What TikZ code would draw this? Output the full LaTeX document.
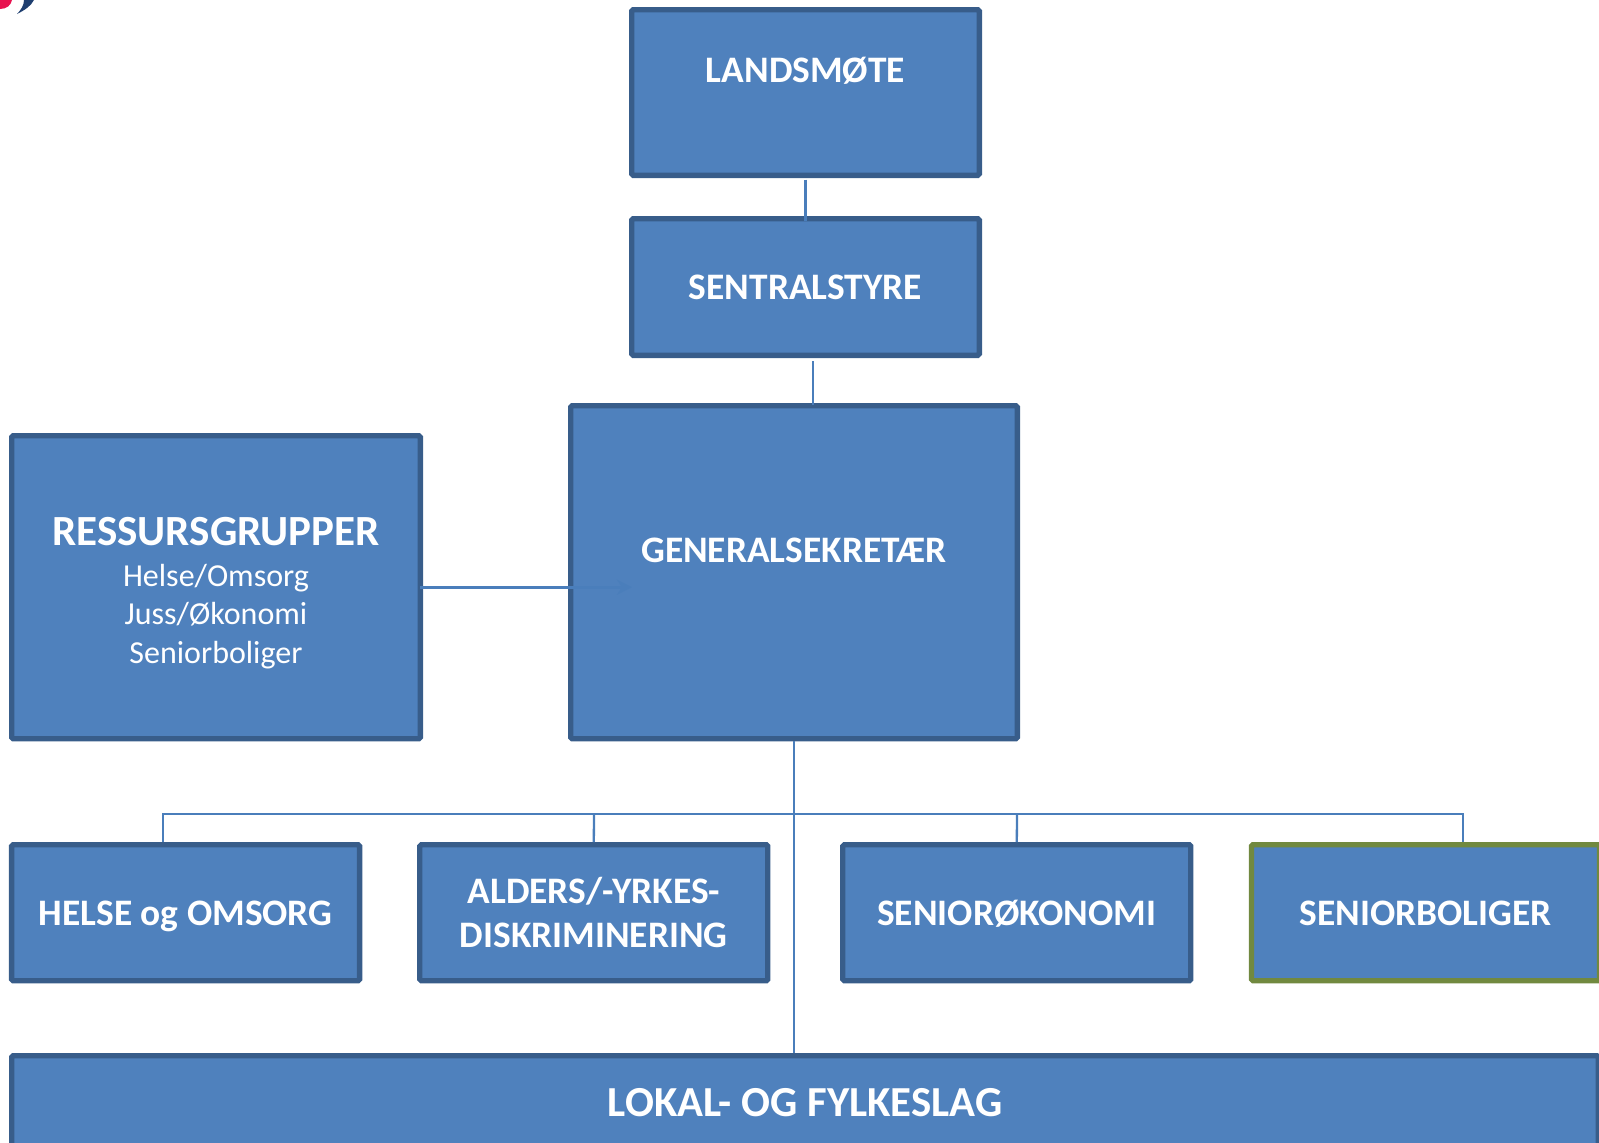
\documentclass[tikz,border=0pt]{standalone}
\usepackage{fontspec}
\setmainfont{Carlito}
\usepackage{xcolor}
\usetikzlibrary{arrows.meta}
\definecolor{boxfill}{HTML}{4F81BD}
\definecolor{boxline}{HTML}{385D8A}
\definecolor{greenline}{HTML}{71893F}
\definecolor{linkline}{HTML}{4A7EBB}
\definecolor{logored}{HTML}{E8124F}
\definecolor{logonavy}{HTML}{1F3F70}
\tikzset{
  orgbox/.style={rectangle, draw=boxline, fill=boxfill, line width=5.3pt, rounded corners=1.5pt,
    inner sep=0pt, align=center, text=white, font=\fontsize{37.4}{44}\selectfont\bfseries},
  oneline/.style={text height=#1, text depth=0pt},
  link/.style={draw=linkline, line width=2.3pt}
}
\newcommand{\subline}[1]{{\fontsize{32}{38.5}\selectfont\mdseries #1}}
\begin{document}
\begin{tikzpicture}[x=1pt, y=-1pt]
        \useasboundingbox (0, 0) rectangle (1599, 1143);
        \fill [logored] (0, 9) .. controls (7, 9) and (11, 5) .. (12, 0) -- (0, 0) -- cycle;
        \fill [logonavy] (17, 14) .. controls (25, 10) and (31, 6) .. (34, 0) -- (24, 0) .. controls (24, 5) and (21, 10) .. (17, 14) -- cycle;
        \node [orgbox, minimum width=347.7pt, minimum height=165.7pt] (landsmote) at (805.5, 92.5) {LANDSMØTE\\[2pt]\mbox{}};
        \node [orgbox, oneline=25pt, minimum width=347.7pt, minimum height=136.7pt] (sentralstyre) at (805.5, 287) {SENTRALSTYRE};
        \node [orgbox, minimum width=446.7pt, minimum height=333pt] (sekretaer) at (794, 572.2) {GENERALSEKRETÆR\\[0pt]\mbox{}};
        \node [orgbox, minimum width=408.7pt, minimum height=303pt] (ressurs) at (216, 587.2) {{\fontsize{43}{46}\selectfont\rule{0pt}{40pt}RESSURSGRUPPER}\\[-3pt]
          \subline{Helse/Omsorg}\\[-5.5pt]\subline{Juss/Økonomi}\\[-5.5pt]\subline{Seniorboliger}};
        \node [orgbox, oneline=25pt, minimum width=348pt, minimum height=136pt] (helse) at (185.6, 912.7) {HELSE og OMSORG};
        \node [orgbox, minimum width=348pt, minimum height=136pt] (alders) at (593.8, 912.7) {ALDERS/-YRKES-\\DISKRIMINERING};
        \node [orgbox, oneline=25pt, minimum width=348pt, minimum height=136pt] (okonomi) at (1016.8, 912.7) {SENIORØKONOMI};
        \node [orgbox, oneline=25pt, draw=greenline, minimum width=348pt, minimum height=136pt] (boliger) at (1425.5, 912.7) {SENIORBOLIGER};
        \node [orgbox, oneline=28pt, font=\fontsize{42.8}{50}\selectfont\bfseries, minimum width=1586.7pt, minimum height=92.7pt] (lokal) at (805, 1102) {LOKAL- OG FYLKESLAG};
        \coordinate (helsedrop) at (163, 814);
        \coordinate (aldersdrop) at (594, 814);
        \coordinate (okonomidrop) at (1017, 814);
        \coordinate (boligdrop) at (1463, 814);
        \draw [link] ([yshift=-1.5pt]landsmote.south) -- ([yshift=-5pt]sentralstyre.north);
        \draw [link] ([xshift=7.5pt, yshift=-3pt]sentralstyre.south) -- ([xshift=19pt, yshift=-2pt]sekretaer.north);
        \draw [link] (sekretaer.south) -- (sekretaer.south |- lokal.north);
        \draw [link] (helse.north -| helsedrop) -- (helsedrop) -- (boligdrop) -- (boliger.north -| boligdrop);
        \draw [link] (aldersdrop) -- (alders.north);
        \draw [link] (okonomidrop) -- (okonomi.north);
        \draw [draw=linkline, line width=3pt, -{Stealth[length=15pt, width=15pt]}] ([xshift=-3pt]ressurs.east) -- ([xshift=64pt]sekretaer.west |- ressurs.east);
      \end{tikzpicture}
\end{document}
